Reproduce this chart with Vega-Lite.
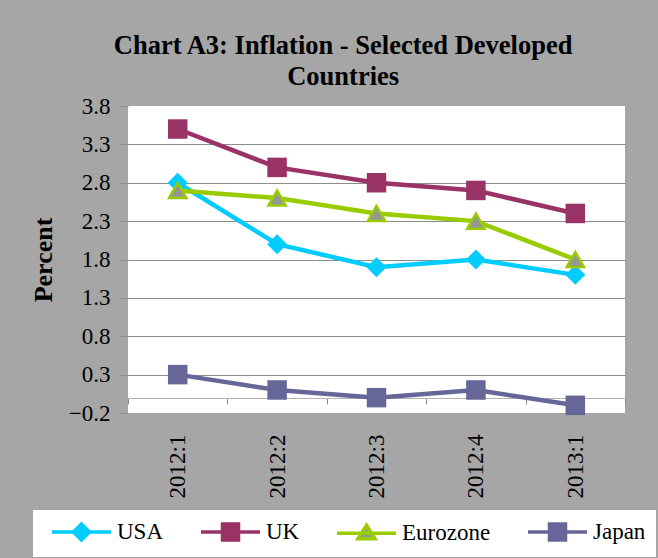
{
  "$schema": "https://vega.github.io/schema/vega-lite/v6.json",
  "width": 497,
  "height": 307,
  "autosize": {"type": "none"},
  "padding": {"left": 128, "top": 106, "right": 33, "bottom": 145},
  "background": "#a6a6a6",
  "config": {
    "view": {"fill": "white", "stroke": null},
    "font": "Liberation Serif",
    "style": {"guide-label": {"font": "Liberation Serif"}},
    "legend": {"labelFont": "Liberation Serif", "labelFontSize": 23}
  },
  "title": {
    "text": ["Chart A3: Inflation - Selected Developed", "Countries"],
    "font": "Liberation Serif",
    "fontSize": 26.5,
    "fontWeight": "bold",
    "color": "black",
    "lineHeight": 31,
    "anchor": "middle",
    "frame": "bounds",
    "offset": 5
  },
  "data": {
    "values": [
      {"q": "2012:1", "series": "USA", "v": 2.8},
      {"q": "2012:2", "series": "USA", "v": 2.0},
      {"q": "2012:3", "series": "USA", "v": 1.7},
      {"q": "2012:4", "series": "USA", "v": 1.8},
      {"q": "2013:1", "series": "USA", "v": 1.6},
      {"q": "2012:1", "series": "UK", "v": 3.5},
      {"q": "2012:2", "series": "UK", "v": 3.0},
      {"q": "2012:3", "series": "UK", "v": 2.8},
      {"q": "2012:4", "series": "UK", "v": 2.7},
      {"q": "2013:1", "series": "UK", "v": 2.4},
      {"q": "2012:1", "series": "Eurozone", "v": 2.7},
      {"q": "2012:2", "series": "Eurozone", "v": 2.6},
      {"q": "2012:3", "series": "Eurozone", "v": 2.4},
      {"q": "2012:4", "series": "Eurozone", "v": 2.3},
      {"q": "2013:1", "series": "Eurozone", "v": 1.8},
      {"q": "2012:1", "series": "Japan", "v": 0.3},
      {"q": "2012:2", "series": "Japan", "v": 0.1},
      {"q": "2012:3", "series": "Japan", "v": 0.0},
      {"q": "2012:4", "series": "Japan", "v": 0.1},
      {"q": "2013:1", "series": "Japan", "v": -0.1}
    ]
  },
  "encoding": {
    "x": {
      "field": "q",
      "type": "ordinal",
      "sort": null,
      "bandPosition": 0.5,
      "scale": {"type": "band", "paddingInner": 0, "paddingOuter": 0},
      "axis": {
        "title": null,
        "offset": -15,
        "domainColor": "#b3b3b3",
        "tickColor": "#8c8c8c",
        "tickBand": "extent",
        "tickSize": 6,
        "labelAngle": -90,
        "labelFontSize": 23,
        "labelFont": "Liberation Serif",
        "labelColor": "black",
        "labelPadding": 30
      }
    },
    "y": {
      "field": "v",
      "type": "quantitative",
      "scale": {"domain": [-0.2, 3.8], "nice": false, "zero": false},
      "axis": {
        "title": "Percent",
        "titleFont": "Liberation Serif",
        "titleFontSize": 26,
        "titleFontWeight": "bold",
        "titleColor": "black",
        "titlePadding": 12,
        "values": [-0.2, 0.3, 0.8, 1.3, 1.8, 2.3, 2.8, 3.3, 3.8],
        "format": ".1f",
        "labelFontSize": 23,
        "labelFont": "Liberation Serif",
        "labelColor": "black",
        "labelPadding": 10,
        "tickSize": 8,
        "tickColor": "#8c8c8c",
        "domain": false,
        "gridColor": {"condition": {"test": "datum.value > 3.7 || datum.value < 0", "value": "transparent"}, "value": "#8c8c8c"},
        "gridOpacity": 1
      }
    }
  },
  "layer": [
    {
      "mark": {"type": "line", "strokeWidth": 4.5},
      "encoding": {
        "color": {
          "field": "series",
          "type": "nominal",
          "scale": {"domain": ["USA", "UK", "Eurozone", "Japan"], "range": ["#00ccff", "#993366", "#99cc00", "#666699"]},
          "legend": {
            "orient": "none",
            "legendX": -95,
            "legendY": 404,
            "direction": "horizontal",
            "title": null,
            "fillColor": "white",
            "padding": 10,
            "symbolSize": 400,
            "symbolStrokeWidth": 3.5,
            "labelFontSize": 23,
            "labelFont": "Liberation Serif",
            "labelColor": "black",
            "labelOffset": 50,
            "columnPadding": 28,
            "encode": {
              "labels": {
                "update": {
                  "font": {"signal": "'Liberation Serif'"}
                }
              },
              "symbols": {
                "update": {
                  "shape": {"signal": "datum.value === 'USA' ? 'M-0.3,0H5.6M2.65,-0.8L3.45,0L2.65,0.8L1.85,0Z' : datum.value === 'Eurozone' ? 'M-0.3,0H5.6M2.65,-0.8L3.5,0.55H1.8Z' : 'M-0.3,0H5.6M1.85,-0.8H3.45V0.8H1.85Z'"},
                  "fill": {"signal": "datum.value === 'USA' ? '#00ccff' : datum.value === 'UK' ? '#993366' : datum.value === 'Eurozone' ? '#969696' : '#666699'"},
                  "fillOpacity": {"value": 1}
                }
              }
            }
          }
        }
      }
    },
    {
      "transform": [{"filter": "datum.series === 'USA'"}],
      "mark": {"type": "point", "shape": "diamond", "filled": true, "opacity": 1, "fill": "#00ccff", "size": 400}
    },
    {
      "transform": [{"filter": "datum.series === 'UK'"}],
      "mark": {"type": "point", "shape": "square", "filled": true, "opacity": 1, "fill": "#993366", "size": 380}
    },
    {
      "transform": [{"filter": "datum.series === 'Eurozone'"}],
      "mark": {"type": "point", "shape": "triangle-up", "filled": true, "opacity": 1, "fill": "#969696", "stroke": "#99cc00", "strokeWidth": 2.5, "size": 300}
    },
    {
      "transform": [{"filter": "datum.series === 'Japan'"}],
      "mark": {"type": "point", "shape": "square", "filled": true, "opacity": 1, "fill": "#666699", "size": 380}
    }
  ]
}
